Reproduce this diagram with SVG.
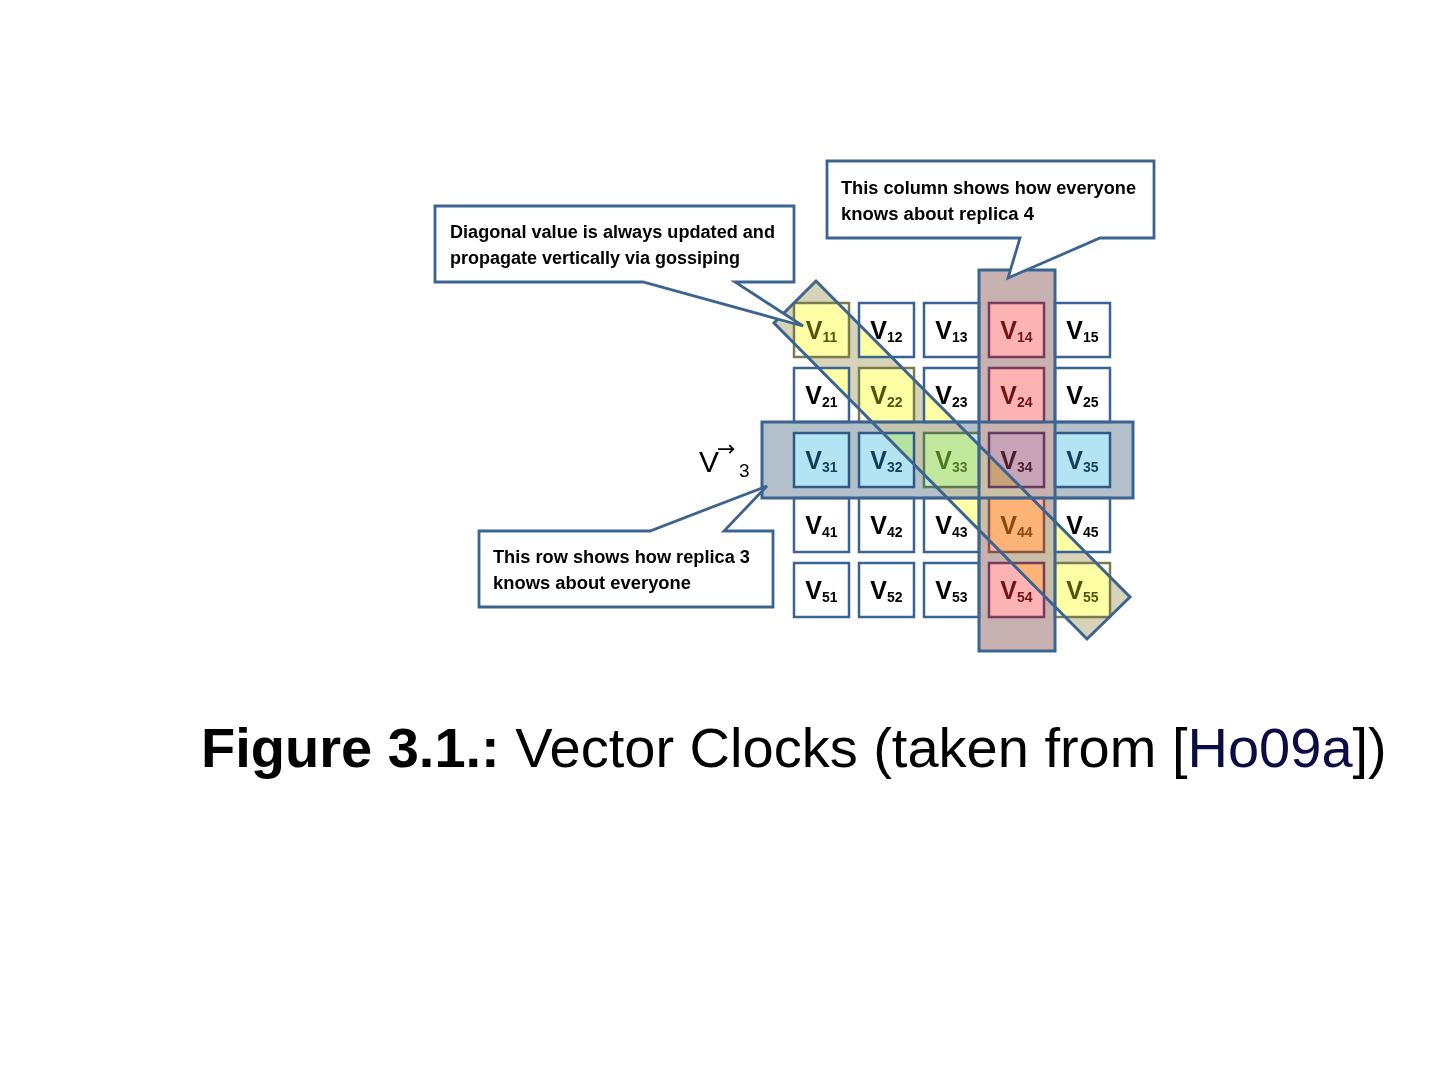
<svg xmlns="http://www.w3.org/2000/svg" width="1440" height="1080" viewBox="0 0 1440 1080">
<style>
.cell{stroke:#3b6391;stroke-width:2.5}
.band{fill:none;stroke:#3c6491;stroke-width:3}
.callout{fill:#ffffff;stroke:#3c6491;stroke-width:2.8;stroke-linejoin:miter}
.ct{font-family:"Liberation Sans",Arial,sans-serif;font-weight:bold;font-size:18px;fill:#000}
.cl{font-family:"Liberation Sans",Arial,sans-serif;font-weight:bold;font-size:25px;fill:#000;text-anchor:middle}
.cl tspan{font-size:14px}
.olive{fill:#55550f}
.green{fill:#4c7a2c}
.red{fill:#701416}
.maroon{fill:#4a1f30}
.brown{fill:#8a4812}
.teal{fill:#123f58}
.cap{font-family:"Liberation Sans",Arial,sans-serif;font-size:56px;fill:#000}
</style>
<defs>
<clipPath id="cellclip">
<rect x="795.2" y="304.2" width="52.6" height="51.6"/><rect x="860.2" y="304.2" width="52.6" height="51.6"/><rect x="925.2" y="304.2" width="52.6" height="51.6"/><rect x="990.2" y="304.2" width="52.6" height="51.6"/><rect x="1056.2" y="304.2" width="52.6" height="51.6"/>
<rect x="795.2" y="369.2" width="52.6" height="51.6"/><rect x="860.2" y="369.2" width="52.6" height="51.6"/><rect x="925.2" y="369.2" width="52.6" height="51.6"/><rect x="990.2" y="369.2" width="52.6" height="51.6"/><rect x="1056.2" y="369.2" width="52.6" height="51.6"/>
<rect x="795.2" y="434.2" width="52.6" height="51.6"/><rect x="860.2" y="434.2" width="52.6" height="51.6"/><rect x="925.2" y="434.2" width="52.6" height="51.6"/><rect x="990.2" y="434.2" width="52.6" height="51.6"/><rect x="1056.2" y="434.2" width="52.6" height="51.6"/>
<rect x="795.2" y="499.2" width="52.6" height="51.6"/><rect x="860.2" y="499.2" width="52.6" height="51.6"/><rect x="925.2" y="499.2" width="52.6" height="51.6"/><rect x="990.2" y="499.2" width="52.6" height="51.6"/><rect x="1056.2" y="499.2" width="52.6" height="51.6"/>
<rect x="795.2" y="564.2" width="52.6" height="51.6"/><rect x="860.2" y="564.2" width="52.6" height="51.6"/><rect x="925.2" y="564.2" width="52.6" height="51.6"/><rect x="990.2" y="564.2" width="52.6" height="51.6"/><rect x="1056.2" y="564.2" width="52.6" height="51.6"/>
</clipPath>
</defs>
<rect width="1440" height="1080" fill="#ffffff"/>

<g id="band-fills">
<rect x="762" y="422" width="371" height="76" fill="#b3c0c9"/>
<rect x="979" y="270" width="76" height="381" fill="#c7b1b1"/>
<polygon points="816,281 1130,597 1087,639 774,323" fill="#c9c4a1" fill-opacity="0.75"/>
</g>

<g id="cells">
<g id="v11"><rect class="cell" x="794" y="303" width="55" height="54" fill="#ffffff" style="stroke:#7b7c4e"/><text class="cl olive" x="821.5" y="339">V<tspan dy="3">11</tspan></text></g>
<g id="v12"><rect class="cell" x="859" y="303" width="55" height="54" fill="#ffffff"/><text class="cl" x="886.5" y="339">V<tspan dy="3">12</tspan></text></g>
<g id="v13"><rect class="cell" x="924" y="303" width="55" height="54" fill="#ffffff"/><text class="cl" x="951.5" y="339">V<tspan dy="3">13</tspan></text></g>
<g id="v14"><rect class="cell" x="989" y="303" width="55" height="54" fill="#fdb3b3" style="stroke:#7a3c5c"/><text class="cl red" x="1016.5" y="339">V<tspan dy="3">14</tspan></text></g>
<g id="v15"><rect class="cell" x="1055" y="303" width="55" height="54" fill="#ffffff"/><text class="cl" x="1082.5" y="339">V<tspan dy="3">15</tspan></text></g>

<g id="v21"><rect class="cell" x="794" y="368" width="55" height="54" fill="#ffffff"/><text class="cl" x="821.5" y="404">V<tspan dy="3">21</tspan></text></g>
<g id="v22"><rect class="cell" x="859" y="368" width="55" height="54" fill="#ffffff" style="stroke:#7b7c4e"/><text class="cl olive" x="886.5" y="404">V<tspan dy="3">22</tspan></text></g>
<g id="v23"><rect class="cell" x="924" y="368" width="55" height="54" fill="#ffffff"/><text class="cl" x="951.5" y="404">V<tspan dy="3">23</tspan></text></g>
<g id="v24"><rect class="cell" x="989" y="368" width="55" height="54" fill="#fdb3b3" style="stroke:#7a3c5c"/><text class="cl red" x="1016.5" y="404">V<tspan dy="3">24</tspan></text></g>
<g id="v25"><rect class="cell" x="1055" y="368" width="55" height="54" fill="#ffffff"/><text class="cl" x="1082.5" y="404">V<tspan dy="3">25</tspan></text></g>

<g id="v31"><rect class="cell" x="794" y="433" width="55" height="54" fill="#b4e3f4" style="stroke:#2f5a86"/><text class="cl teal" x="821.5" y="469">V<tspan dy="3">31</tspan></text></g>
<g id="v32"><rect class="cell" x="859" y="433" width="55" height="54" fill="#b4e3f4" style="stroke:#2f5a86"/><text class="cl teal" x="886.5" y="469">V<tspan dy="3">32</tspan></text></g>
<g id="v33"><rect class="cell" x="924" y="433" width="55" height="54" fill="#c2e8f2" style="stroke:#5c7a4c"/><text class="cl green" x="951.5" y="469">V<tspan dy="3">33</tspan></text></g>
<g id="v34"><rect class="cell" x="989" y="433" width="55" height="54" fill="#c9a3b8" style="stroke:#663a5c"/><text class="cl maroon" x="1016.5" y="469">V<tspan dy="3">34</tspan></text></g>
<g id="v35"><rect class="cell" x="1055" y="433" width="55" height="54" fill="#b4e3f4" style="stroke:#2f5a86"/><text class="cl teal" x="1082.5" y="469">V<tspan dy="3">35</tspan></text></g>

<g id="v41"><rect class="cell" x="794" y="498" width="55" height="54" fill="#ffffff"/><text class="cl" x="821.5" y="534">V<tspan dy="3">41</tspan></text></g>
<g id="v42"><rect class="cell" x="859" y="498" width="55" height="54" fill="#ffffff"/><text class="cl" x="886.5" y="534">V<tspan dy="3">42</tspan></text></g>
<g id="v43"><rect class="cell" x="924" y="498" width="55" height="54" fill="#ffffff"/><text class="cl" x="951.5" y="534">V<tspan dy="3">43</tspan></text></g>
<g id="v44"><rect class="cell" x="989" y="498" width="55" height="54" fill="#fdb3b3" style="stroke:#8b5442"/><text class="cl brown" x="1016.5" y="534">V<tspan dy="3">44</tspan></text></g>
<g id="v45"><rect class="cell" x="1055" y="498" width="55" height="54" fill="#ffffff"/><text class="cl" x="1082.5" y="534">V<tspan dy="3">45</tspan></text></g>

<g id="v51"><rect class="cell" x="794" y="563" width="55" height="54" fill="#ffffff"/><text class="cl" x="821.5" y="599">V<tspan dy="3">51</tspan></text></g>
<g id="v52"><rect class="cell" x="859" y="563" width="55" height="54" fill="#ffffff"/><text class="cl" x="886.5" y="599">V<tspan dy="3">52</tspan></text></g>
<g id="v53"><rect class="cell" x="924" y="563" width="55" height="54" fill="#ffffff"/><text class="cl" x="951.5" y="599">V<tspan dy="3">53</tspan></text></g>
<g id="v54"><rect class="cell" x="989" y="563" width="55" height="54" fill="#fdb3b3" style="stroke:#7a3c5c"/><text class="cl red" x="1016.5" y="599">V<tspan dy="3">54</tspan></text></g>
<g id="v55"><rect class="cell" x="1055" y="563" width="55" height="54" fill="#ffffff" style="stroke:#7b7c4e"/><text class="cl olive" x="1082.5" y="599">V<tspan dy="3">55</tspan></text></g>
</g>

<g id="diagonal-tint" style="mix-blend-mode:multiply">
<polygon points="816,281 1130,597 1087,639 774,323" fill="#ffffa6" clip-path="url(#cellclip)"/>
</g>

<g id="connectors">
<rect class="band" x="979" y="270" width="76" height="381"/>
<rect class="band" x="762" y="422" width="371" height="76"/>
<polygon class="band" points="816,281 1130,597 1087,639 774,323"/>
</g>

<g id="callout-diagonal">
<path class="callout" d="M435,206 H794 V282 H735 L803,326 L643,282 H435 Z"/>
<text class="ct" x="450" y="238" textLength="325" lengthAdjust="spacingAndGlyphs">Diagonal value is always updated and</text>
<text class="ct" x="450" y="264" textLength="290" lengthAdjust="spacingAndGlyphs">propagate vertically via gossiping</text>
</g>

<g id="callout-column">
<path class="callout" d="M827,161 H1154 V238 H1100 L1008,278 L1020,238 H827 Z"/>
<text class="ct" x="841" y="194" textLength="295" lengthAdjust="spacingAndGlyphs">This column shows how everyone</text>
<text class="ct" x="841" y="220" textLength="193" lengthAdjust="spacingAndGlyphs">knows about replica 4</text>
</g>

<g id="callout-row">
<path class="callout" d="M479,531 H650 L767,486 L724,531 H773 V607 H479 Z"/>
<text class="ct" x="493" y="563" textLength="257" lengthAdjust="spacingAndGlyphs">This row shows how replica 3</text>
<text class="ct" x="493" y="589" textLength="198" lengthAdjust="spacingAndGlyphs">knows about everyone</text>
</g>

<g id="row-label">
<text x="699" y="472" font-family="'Liberation Sans',Arial,sans-serif" font-size="30" fill="#000">V</text>
<text x="717" y="456" font-family="'DejaVu Sans',sans-serif" font-size="22" fill="#000">→</text>
<text x="739" y="477" font-family="'Liberation Sans',Arial,sans-serif" font-size="19" fill="#000">3</text>
</g>

<g id="caption">
<text class="cap" x="201" y="767"><tspan font-weight="bold">Figure 3.1.:</tspan> Vector Clocks (taken from [<tspan fill="#0b0b45">Ho09a</tspan>])</text>
</g>
</svg>
